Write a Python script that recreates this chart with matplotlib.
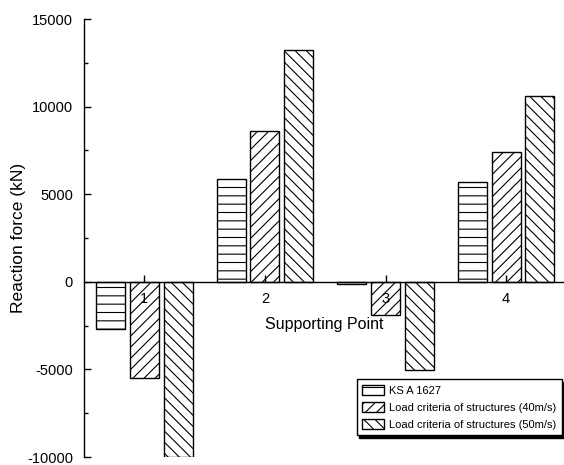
import matplotlib.pyplot as plt
import numpy as np

# Données
points = [1, 2, 3, 4]
point_labels = ['1', '2', '3', '4']
ks_a1627 = [-2680, 5880, -150, 5710]
load_40 = [-5480, 8620, -1880, 7420]
load_50 = [-10000, 13250, -5020, 10620]
series_names = ['KS A 1627',
                'Load criteria of structures (40m/s)',
                'Load criteria of structures (50m/s)']

plt.rcParams['font.family'] = ['Liberation Sans', 'DejaVu Sans']
plt.rcParams['hatch.linewidth'] = 0.8
plt.rcParams['axes.unicode_minus'] = False

fig = plt.figure(figsize=(5.64, 4.65), dpi=100)
ax = fig.add_axes([0.149, 0.0172, 0.851, 0.9419])
ax.set_axisbelow(False)

x = np.array(points, dtype=float)
width = 0.24
offset = 0.28
hatches = ['--', '///', '\\\\\\']
for i, (vals, name) in enumerate(zip([ks_a1627, load_40, load_50], series_names)):
    ax.bar(x + (i - 1) * offset, vals, width,
           facecolor='white', edgecolor='black', linewidth=1.0,
           hatch=hatches[i], label=name, zorder=2)

ax.set_xlim(0.5, 4.48)
ax.set_ylim(-10000, 15000)

# Axes : gauche + axe horizontal à zéro
ax.spines['top'].set_visible(False)
ax.spines['right'].set_visible(False)
ax.spines['bottom'].set_position(('data', 0))
ax.spines['left'].set_linewidth(1.0)
ax.spines['bottom'].set_linewidth(1.0)

ax.set_xticks(points)
ax.set_xticklabels(point_labels)
ax.set_yticks([-10000, -5000, 0, 5000, 10000, 15000])
ax.set_yticks(np.arange(-7500, 15000, 5000), minor=True)
ax.tick_params(axis='y', which='major', direction='in', length=5, width=1, labelsize=10.5, pad=8)
ax.tick_params(axis='y', which='minor', direction='in', length=3, width=1)
ax.tick_params(axis='x', direction='in', length=5, width=1, labelsize=10.5, pad=7)

ax.set_xlabel('Supporting Point', fontsize=11.5, labelpad=8)
ax.set_ylabel('Reaction force (kN)', fontsize=12.5, labelpad=1)

leg = ax.legend(loc='lower right', bbox_to_anchor=(0.995, 0.05),
                fontsize=8, fancybox=False, edgecolor='black', framealpha=1,
                shadow={'color': 'black', 'alpha': 1},
                handlelength=2.0, handleheight=1.0, handletextpad=0.4,
                labelspacing=0.55, borderpad=0.5, borderaxespad=0)
leg.get_frame().set_linewidth(1.0)

fig.savefig('out.png', dpi=100)
